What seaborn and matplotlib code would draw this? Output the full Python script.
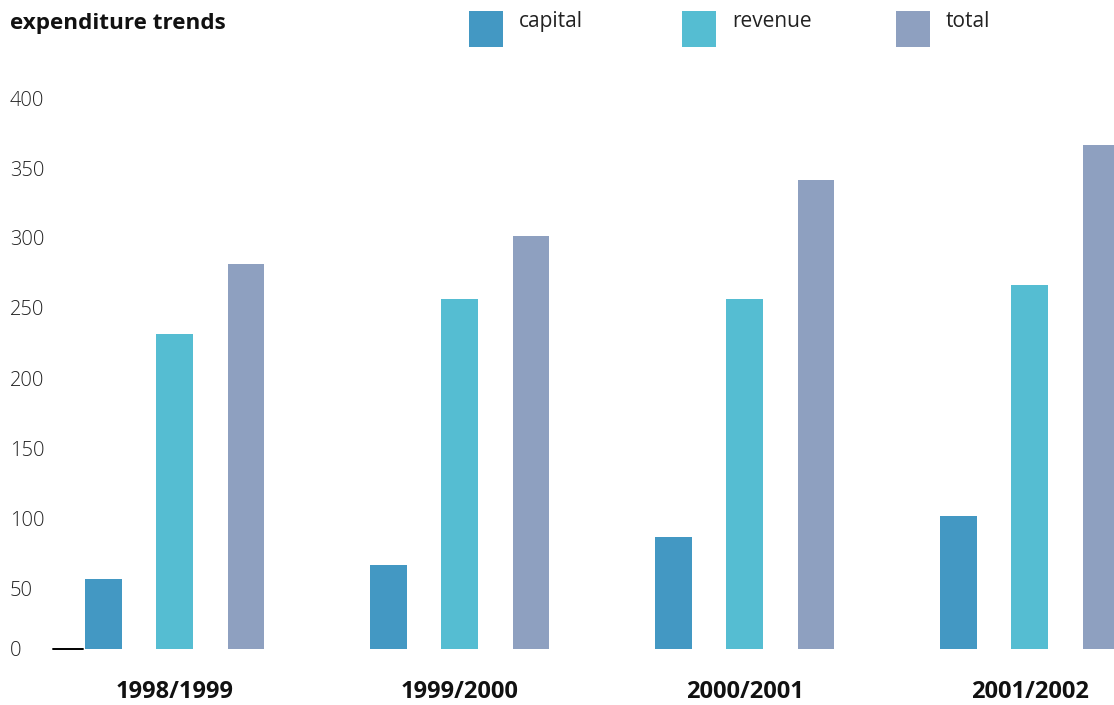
import matplotlib
matplotlib.use("Agg")
import matplotlib.pyplot as plt
from matplotlib.transforms import ScaledTranslation
import pandas as pd
import seaborn as sns

# Expenditure by financial year
periods = ["1998/1999", "1999/2000", "2000/2001", "2001/2002"]
capital = [50, 60, 80, 95]
revenue = [225, 250, 250, 260]
total = [275, 295, 335, 360]
series_names = ["capital", "revenue", "total"]
y_ticks = [0, 50, 100, 150, 200, 250, 300, 350, 400]

colors = {"capital": "#4398C3", "revenue": "#55BDD2", "total": "#8EA0C0"}

df = pd.DataFrame({
    "period": periods * 3,
    "series": [s for s in series_names for _ in periods],
    "value": capital + revenue + total,
})

sns.set_theme(style="white")
plt.rcParams["font.family"] = ["Open Sans", "DejaVu Sans"]

W, H = 1114, 705
fig = plt.figure(figsize=(W / 100, H / 100), dpi=100)
ax = fig.add_axes([83 / W, 56 / H, 1031 / W, 560 / H])

sns.barplot(data=df, x="period", y="value", hue="series", order=periods,
            hue_order=series_names, palette=colors, width=0.75, gap=0.49,
            saturation=1, errorbar=None, linewidth=0, ax=ax)

ax.set_xlim(-91.6 / 285, (W - 83 - 91.6) / 285)
ax.set_ylim(0, 400)
ax.set_xlabel("")
ax.set_ylabel("")
for s in ax.spines.values():
    s.set_visible(False)

# y tick labels, left aligned at the figure margin
ax.set_yticks(y_ticks)
ax.set_yticklabels([str(v) for v in y_ticks])
ax.tick_params(axis="y", length=0, pad=73 * 0.72, labelsize=14.5, labelcolor="#222222")
for lab in ax.get_yticklabels():
    lab.set_horizontalalignment("left")
    lab.set_fontweight("light")
shift = ScaledTranslation(0, -9 / 100, fig.dpi_scale_trans)
for lab in ax.get_yticklabels()[1:]:
    lab.set_transform(lab.get_transform() + shift)

ax.tick_params(axis="x", length=0, pad=22, labelsize=17, labelcolor="#111111")
for lab in ax.get_xticklabels():
    lab.set_fontweight("bold")

# short baseline stub beside the zero label
ax.plot([-30 / 1031, 0], [0, 0], transform=ax.get_yaxis_transform(),
        color="black", lw=1.4, clip_on=False)

fig.text(10 / W, 1 - 24 / H, "expenditure trends", ha="left", va="center",
         fontsize=16.2, fontweight="bold", color="#111111")

# one legend entry per series, placed at evenly spaced slots along the top
handles, labels = ax.get_legend_handles_labels()
ax.get_legend().remove()
slot_x = [469, 682, 896]
for h, l, x0 in zip(handles, labels, slot_x):
    leg = fig.legend([h], [l], loc="upper left", frameon=False,
                     bbox_to_anchor=(x0 / W, 1 - 11 / H),
                     borderpad=0, borderaxespad=0, fontsize=15,
                     handlelength=1.63, handleheight=2.285,
                     handletextpad=0.77, labelcolor="#222222")
    for t in leg.get_texts():
        t.set_y(8)

fig.savefig("out.png", dpi=100)
